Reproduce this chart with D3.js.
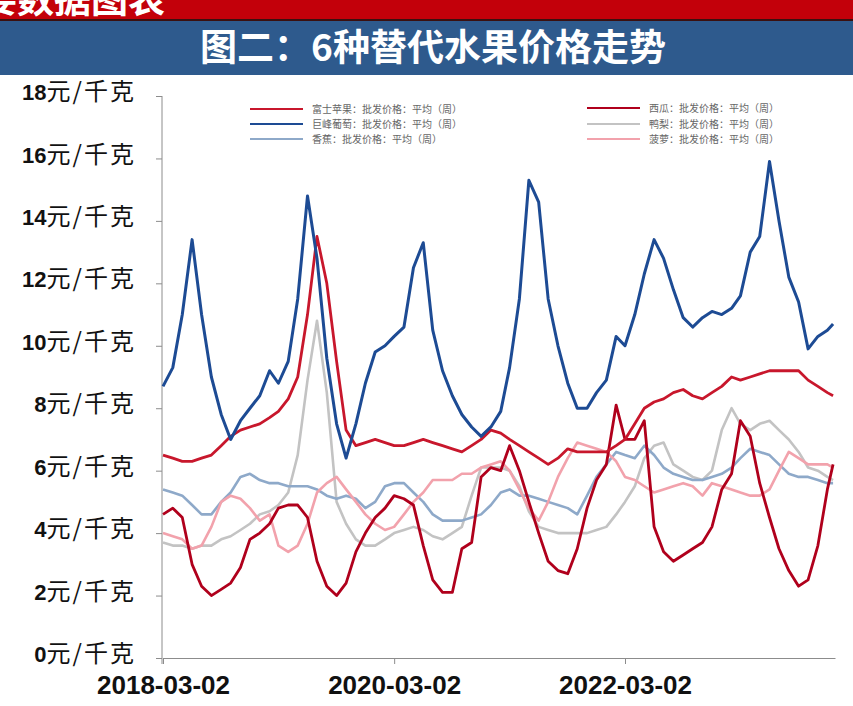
<!DOCTYPE html>
<html>
<head>
<meta charset="utf-8">
<script src="https://cdn.jsdelivr.net/npm/d3@7"></script>
<style>
  body { margin: 0; background: #fff; }
  svg { display: block; }
</style>
</head>
<body>
<svg id="chart"></svg>
<script>
const width = 853;
const height = 706;

// monthly readings, 2018-03 .. 2023-12 (last point mid-Dec 2023)
const startDate = "2018-03-02";
const lastDate = "2023-12-20";

const grape = [8.7, 9.3, 11.0, 13.4, 11.0, 9.0, 7.8, 7.0, 7.6, 8.0, 8.4, 9.2, 8.8, 9.5, 11.5, 14.8, 12.8, 9.6, 7.5, 6.4,
  7.5, 8.8, 9.8, 10.0, 10.3, 10.6, 12.5, 13.3, 10.5, 9.2, 8.4, 7.8, 7.4, 7.1, 7.4, 7.9, 9.3, 11.5, 15.3, 14.6,
  11.5, 10.0, 8.8, 8.0, 8.0, 8.5, 8.9, 10.3, 10.0, 11.0, 12.3, 13.4, 12.8, 11.8, 10.9, 10.6, 10.9, 11.1, 11.0, 11.2,
  11.6, 13.0, 13.5, 15.9, 14.0, 12.2, 11.4, 9.9, 10.3, 10.5, 10.7];
const apple = [6.5, 6.4, 6.3, 6.3, 6.4, 6.5, 6.8, 7.1, 7.3, 7.4, 7.5, 7.7, 7.9, 8.3, 9.0, 11.0, 13.5, 12.0, 9.5, 7.3,
  6.8, 6.9, 7.0, 6.9, 6.8, 6.8, 6.9, 7.0, 6.9, 6.8, 6.7, 6.6, 6.8, 7.0, 7.3, 7.2, 7.0, 6.8, 6.6, 6.4,
  6.2, 6.4, 6.7, 6.6, 6.6, 6.6, 6.6, 6.8, 7.0, 7.5, 8.0, 8.2, 8.3, 8.5, 8.6, 8.4, 8.3, 8.5, 8.7, 9.0,
  8.9, 9.0, 9.1, 9.2, 9.2, 9.2, 9.2, 8.9, 8.7, 8.5, 8.4];
const watermelon = [4.6, 4.8, 4.5, 3.0, 2.3, 2.0, 2.2, 2.4, 2.9, 3.8, 4.0, 4.3, 4.8, 4.9, 4.9, 4.5, 3.1, 2.3, 2.0, 2.4,
  3.4, 4.0, 4.5, 4.8, 5.2, 5.1, 4.9, 3.6, 2.5, 2.1, 2.1, 3.5, 3.7, 5.8, 6.1, 6.0, 6.8, 6.0, 5.0, 4.0,
  3.1, 2.8, 2.7, 3.5, 4.8, 5.7, 6.2, 8.1, 7.0, 7.0, 7.6, 4.2, 3.4, 3.1, 3.3, 3.5, 3.7, 4.2, 5.4, 5.9,
  7.6, 7.1, 5.6, 4.5, 3.5, 2.8, 2.3, 2.5, 3.6, 5.4, 6.2];
const pear = [3.7, 3.6, 3.6, 3.5, 3.6, 3.6, 3.8, 3.9, 4.1, 4.3, 4.6, 4.7, 4.9, 5.3, 6.5, 8.9, 10.8, 8.5, 5.0, 4.3,
  3.8, 3.6, 3.6, 3.8, 4.0, 4.1, 4.2, 4.1, 3.9, 3.8, 4.0, 4.2, 5.2, 6.1, 6.1, 6.1, 6.0, 5.5, 4.7, 4.2,
  4.1, 4.0, 4.0, 4.0, 4.0, 4.1, 4.2, 4.6, 5.0, 5.5, 6.4, 6.8, 6.9, 6.2, 6.0, 5.8, 5.7, 6.0, 7.3, 8.0,
  7.5, 7.3, 7.5, 7.6, 7.3, 7.0, 6.6, 6.1, 6.0, 5.8, 5.7];
const banana = [5.4, 5.3, 5.2, 4.9, 4.6, 4.6, 5.0, 5.3, 5.8, 5.9, 5.7, 5.6, 5.6, 5.5, 5.5, 5.5, 5.4, 5.2, 5.1, 5.2,
  5.1, 4.8, 5.0, 5.5, 5.6, 5.6, 5.3, 5.0, 4.6, 4.4, 4.4, 4.4, 4.5, 4.6, 4.9, 5.3, 5.4, 5.2, 5.2, 5.1,
  5.0, 4.9, 4.8, 4.6, 5.2, 5.8, 6.2, 6.6, 6.5, 6.4, 6.8, 6.5, 6.1, 5.9, 5.8, 5.7, 5.7, 5.8, 5.9, 6.1,
  6.4, 6.7, 6.6, 6.5, 6.2, 5.9, 5.8, 5.8, 5.7, 5.6, 5.6];
const pineapple = [4.0, 3.9, 3.8, 3.5, 3.6, 4.2, 5.0, 5.2, 5.1, 4.8, 4.4, 4.6, 3.6, 3.4, 3.6, 4.3, 5.3, 5.6, 5.8, 5.4,
  5.0, 4.6, 4.3, 4.1, 4.2, 4.6, 5.0, 5.3, 5.7, 5.7, 5.7, 5.9, 5.9, 6.1, 6.2, 6.3, 6.0, 5.4, 4.8, 4.4,
  5.0, 5.8, 6.4, 6.9, 6.8, 6.7, 6.6, 6.3, 5.8, 5.7, 5.5, 5.3, 5.4, 5.5, 5.6, 5.5, 5.2, 5.6, 5.5, 5.4,
  5.3, 5.2, 5.2, 5.4, 6.0, 6.6, 6.4, 6.2, 6.2, 6.2, 6.1];

const seriesNames = [
  "富士苹果：批发价格：平均（周）",
  "巨峰葡萄：批发价格：平均（周）",
  "香蕉：批发价格：平均（周）",
  "西瓜：批发价格：平均（周）",
  "鸭梨：批发价格：平均（周）",
  "菠萝：批发价格：平均（周）"
];
const yTicks = [0, 2, 4, 6, 8, 10, 12, 14, 16, 18];
const xTicks = ["2018-03-02", "2020-03-02", "2022-03-02"];

const parse = d3.timeParse("%Y-%m-%d");
const d0 = parse(startDate);
const dates = d3.range(70).map(i => d3.timeMonth.offset(d0, i)).concat([parse(lastDate)]);

const series = [
  { name: seriesNames[0], values: apple, color: "#c8172c", w: 2.8 },
  { name: seriesNames[1], values: grape, color: "#1d4b94", w: 3 },
  { name: seriesNames[2], values: banana, color: "#8ea9c9", w: 2.6 },
  { name: seriesNames[3], values: watermelon, color: "#b0001c", w: 2.8 },
  { name: seriesNames[4], values: pear, color: "#c3c3c3", w: 2.6 },
  { name: seriesNames[5], values: pineapple, color: "#f2a2ac", w: 2.6 }
];
// drawing order: light lines underneath
const drawOrder = [4, 2, 5, 3, 0, 1];

const svg = d3.select("#chart")
  .attr("width", width)
  .attr("height", height)
  .attr("viewBox", [0, 0, width, height]);

// header bars
svg.append("rect").attr("x", 0).attr("y", 0).attr("width", width).attr("height", 19).attr("fill", "#c3000a");
svg.append("rect").attr("x", 0).attr("y", 19).attr("width", width).attr("height", 2).attr("fill", "#3b1010");
svg.append("rect").attr("x", 0).attr("y", 21).attr("width", width).attr("height", 54).attr("fill", "#2e5a8d");

svg.append("text")
  .attr("x", 165)
  .attr("y", 13)
  .attr("text-anchor", "end")
  .attr("fill", "#fff")
  .attr("font-family", "'Noto Sans CJK SC', sans-serif")
  .attr("font-weight", "bold")
  .attr("font-size", 37)
  .text("重要数据图表");

svg.append("text")
  .attr("x", 433)
  .attr("y", 61)
  .attr("text-anchor", "middle")
  .attr("fill", "#fff")
  .attr("font-family", "'Noto Sans CJK SC', sans-serif")
  .attr("font-weight", "bold")
  .attr("font-size", 37)
  .text("图二：6种替代水果价格走势");

// scales
const x = d3.scaleTime()
  .domain([parse("2018-03-02"), parse("2022-03-02")])
  .range([163, 625]);
const xAxisScale = x.copy().domain([x.domain()[0], x.invert(835)]).range([163, 835]);

const y = d3.scaleLinear()
  .domain([0, 18])
  .range([658, 96]);

// axes
const yAxis = svg.append("g")
  .attr("transform", "translate(162,0)")
  .call(d3.axisLeft(y).tickValues(yTicks).tickSize(6).tickSizeOuter(0).tickPadding(20).tickFormat(d => d));
yAxis.select(".domain").attr("stroke", "#8c8c8c").attr("d", "M0,96V664");
yAxis.selectAll(".tick line").attr("stroke", "#8c8c8c");
yAxis.selectAll(".tick text").each(function (d) {
  const t = d3.select(this).text("");
  t.attr("fill", "#111").attr("dy", "0.36em");
  t.append("tspan")
    .attr("font-family", "'Liberation Sans', Arial, sans-serif")
    .attr("font-weight", "bold")
    .attr("font-size", 22)
    .text(d);
  t.append("tspan")
    .attr("font-family", "'Noto Sans CJK SC', sans-serif")
    .attr("font-size", 24)
    .attr("letter-spacing", 2)
    .text("元/千克");
});

const xAxis = svg.append("g")
  .attr("transform", "translate(0,658)")
  .call(d3.axisBottom(xAxisScale).tickValues(xTicks.map(parse)).tickSize(6).tickSizeOuter(0).tickPadding(12)
    .tickFormat(d3.timeFormat("%Y-%m-%d")));
xAxis.select(".domain").attr("stroke", "#8c8c8c");
xAxis.selectAll(".tick line").attr("stroke", "#8c8c8c");
xAxis.selectAll(".tick text")
  .attr("fill", "#111")
  .attr("font-family", "'Liberation Sans', Arial, sans-serif")
  .attr("font-weight", "bold")
  .attr("font-size", 26);

// lines
const line = d3.line()
  .x((d, i) => x(dates[i]))
  .y(d => y(d));

svg.append("g")
  .selectAll("path")
  .data(drawOrder.map(i => series[i]))
  .join("path")
  .attr("fill", "none")
  .attr("stroke", d => d.color)
  .attr("stroke-width", d => d.w)
  .attr("stroke-linejoin", "round")
  .attr("d", d => line(d.values));

// legend
const legendPos = [[250, 109], [250, 124], [250, 139], [587, 108], [587, 124], [587, 139]];
const legend = svg.append("g")
  .selectAll("g")
  .data(series)
  .join("g")
  .attr("transform", (d, i) => `translate(${legendPos[i][0]},${legendPos[i][1]})`);

legend.append("line")
  .attr("x1", 0).attr("x2", 53)
  .attr("stroke", d => d.color)
  .attr("stroke-width", 2);

legend.append("text")
  .attr("x", 62)
  .attr("dy", "0.35em")
  .attr("fill", "#666")
  .attr("font-family", "'Noto Sans CJK SC', sans-serif")
  .attr("font-size", 10)
  .text(d => d.name);
</script>
</body>
</html>
